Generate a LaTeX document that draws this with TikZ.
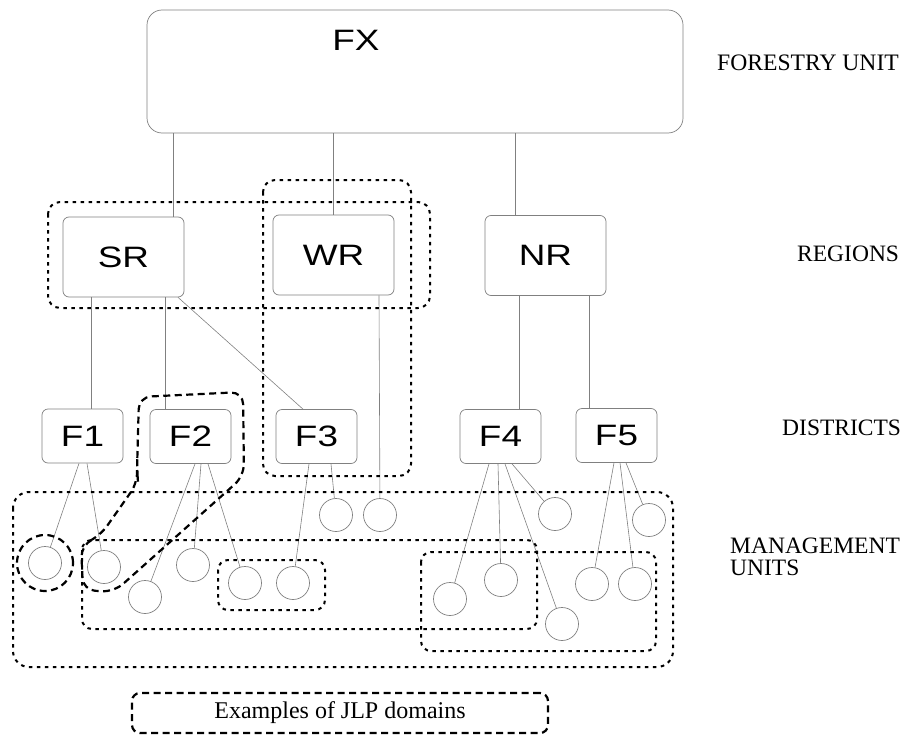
\documentclass[tikz,border=0pt]{standalone}
\usepackage{fontspec}
\setmainfont{Liberation Serif}
\setsansfont{Liberation Sans}
\usepackage{graphicx}
\newcommand\boxfont{\fontsize{29.5}{29.5}\selectfont\sffamily}
\newcommand\bt[1]{\scalebox{1.25}[1]{#1}}
\begin{document}
\begin{tikzpicture}[x=1pt,y=-1pt,
  box/.style={draw=black!50, line width=0.7pt, rounded corners=6pt, inner sep=0pt,
    minimum width=121pt, minimum height=80pt, font=\boxfont},
  fbox/.style={box, minimum width=81pt, minimum height=54pt},
  mu/.style={circle, draw=black!50, line width=0.7pt, minimum size=33pt, inner sep=0pt},
  conn/.style={draw=black!50, line width=0.6pt},
  dom/.style={draw=black, line width=2pt, dash pattern=on 3.5pt off 4.5pt},
  jlp/.style={draw=black, line width=2.2pt, dash pattern=on 7pt off 4.5pt},
  lab/.style={font=\fontsize{23.5}{24}\selectfont, anchor=base west, inner sep=0pt}
]
\useasboundingbox (0,0) rectangle (908,736);

% top unit
\node[box, rounded corners=15pt, minimum width=536pt, minimum height=123pt] (FX) at (415,71.5) {};
\node[font=\boxfont, inner sep=0pt] (FXt) at (356,40) {\bt{FX}};

% regions
\node[box] (SR) at (123.5,257) {\bt{SR}};
\node[box] (WR) at (333.5,255) {\bt{WR}};
\node[box] (NR) at (545.5,255.5) {\bt{NR}};

% districts
\node[fbox] (F1) at (82.5,436) {\bt{F1}};
\node[fbox] (F2) at (190.5,436.5) {\bt{F2}};
\node[fbox] (F3) at (316.5,436.5) {\bt{F3}};
\node[fbox] (F4) at (500.5,436.5) {\bt{F4}};
\node[fbox] (F5) at (616.5,435.5) {\bt{F5}};

% management units
\node[mu] (c1) at (45,563) {};
\node[mu] (c2) at (104,567) {};
\node[mu] (c3) at (145,597) {};
\node[mu] (c4) at (193,565) {};
\node[mu] (c5) at (245,583) {};
\node[mu] (c6) at (293,583) {};
\node[mu] (c7) at (336,515) {};
\node[mu] (c8) at (380,515) {};
\node[mu] (c9) at (450,599) {};
\node[mu] (c10) at (501,580) {};
\node[mu] (c11) at (555,514) {};
\node[mu] (c12) at (562,624) {};
\node[mu] (c13) at (592,584) {};
\node[mu] (c14) at (635,584) {};
\node[mu] (c15) at (649,520) {};

% connectors FX -> regions
\draw[conn] ([xshift=-242pt]FX.south) -- ([xshift=-242pt]FX.south |- SR.north);
\draw[conn] ([xshift=-82pt]FX.south) -- ([xshift=-82pt]FX.south |- WR.north);
\draw[conn] ([xshift=100pt]FX.south) -- ([xshift=100pt]FX.south |- NR.north);

% regions -> districts
\draw[conn] ([xshift=-32.5pt]SR.south) -- ([xshift=-32.5pt]SR.south |- F1.north);
\draw[conn] ([xshift=41.5pt]SR.south) -- ([xshift=41.5pt]SR.south |- F2.north);
\draw[conn] ([xshift=54.5pt]SR.south) -- ([xshift=-13.5pt]F3.north);
\draw[conn] ([xshift=45.5pt]WR.south) -- (c8);
\draw[conn] ([xshift=-26.5pt]NR.south) -- ([xshift=-26.5pt]NR.south |- F4.north);
\draw[conn] ([xshift=43.5pt]NR.south) -- ([xshift=43.5pt]NR.south |- F5.north);

% districts -> units
\draw[conn] ([xshift=-3.5pt]F1.south) -- (c1);
\draw[conn] ([xshift=4.5pt]F1.south) -- (c2);
\draw[conn] ([xshift=4.5pt]F2.south) -- (c3);
\draw[conn] ([xshift=10.5pt]F2.south) -- (c4);
\draw[conn] ([xshift=17.5pt]F2.south) -- (c5);
\draw[conn] ([xshift=-7.5pt]F3.south) -- (c6);
\draw[conn] ([xshift=14.5pt]F3.south) -- (c7);
\draw[conn] ([xshift=-11.5pt]F4.south) -- (c9);
\draw[conn] ([xshift=-2.5pt]F4.south) -- (c10);
\draw[conn] ([xshift=4.5pt]F4.south) -- (c12);
\draw[conn] ([xshift=11.5pt]F4.south) -- (c11);
\draw[conn] ([xshift=-2.5pt]F5.south) -- (c13);
\draw[conn] ([xshift=3.5pt]F5.south) -- (c14);
\draw[conn] ([xshift=9.5pt]F5.south) -- (c15);

% dotted domains
\draw[dom, rounded corners=12pt] (48,202) rectangle (430,308);
\draw[dom, rounded corners=12pt] (263,180) rectangle (411,476);
\draw[dom, rounded corners=16pt] (13,492) rectangle (673,667);
\draw[dom, rounded corners=10pt] (82,540) rectangle (537,629);
\draw[dom, rounded corners=10pt] (218,560) rectangle (325,610);
\draw[dom, rounded corners=10pt] (421,552) rectangle (656,651);

% dashed JLP domains
\draw[jlp, rounded corners=12pt] (137,470) -- (139,397) -- (243,392) -- (244,476)
  -- (114,592) -- (83,590) -- (81,545) -- (100,536) -- (138,482) -- cycle;
\draw[jlp] (c1.center) circle[radius=28pt];

% legend
\node[jlp, rounded corners=8pt, minimum width=416pt, minimum height=40pt, inner sep=0pt,
  font=\fontsize{24}{24}\selectfont] (leg) at (340,713) {Examples of JLP domains\hspace{50pt}};

% level labels
\node[lab, font=\fontsize{23.6}{24}\selectfont] (lu) at (717,70) {FORESTRY UNIT};
\node[lab] (lr) at (797,261) {REGIONS};
\node[lab] (ld) at (782,435) {DISTRICTS};
\node[lab] (lm) at (730,553) {MANAGEMENT};
\node[lab] (lm2) at (730,575) {UNITS};
\end{tikzpicture}
\end{document}
